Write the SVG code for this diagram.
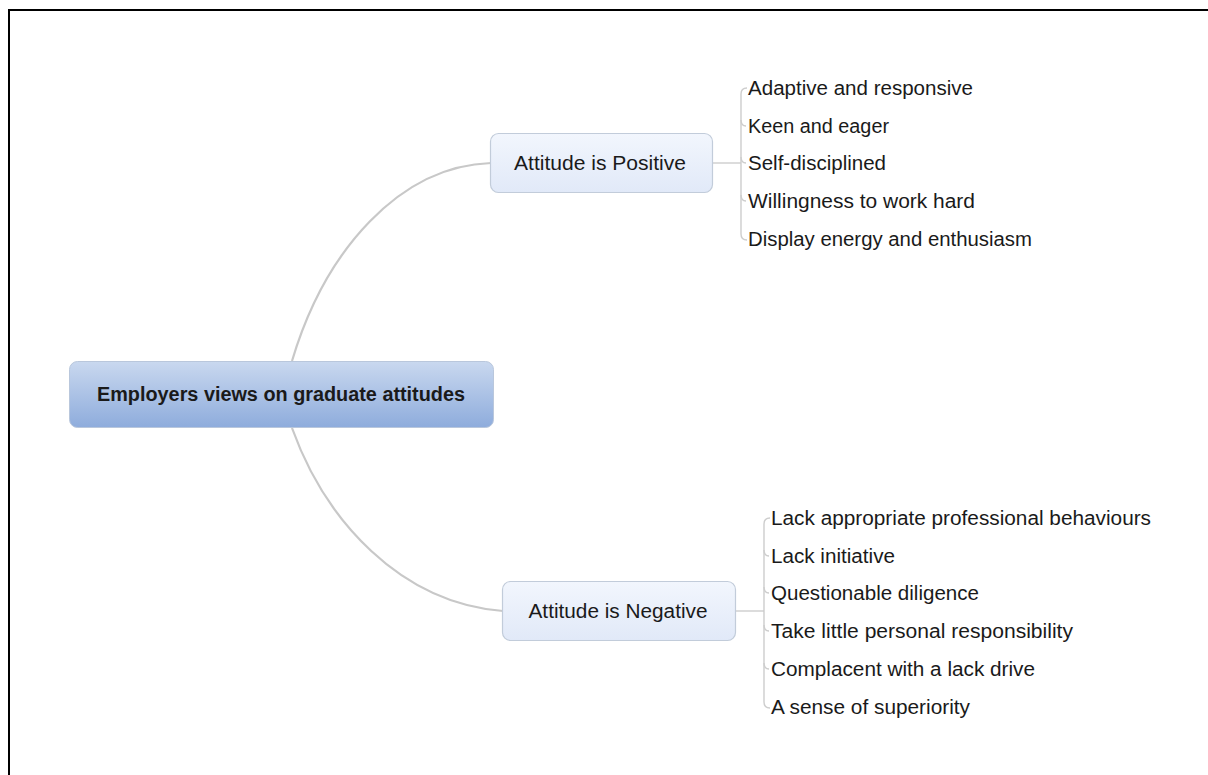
<svg xmlns="http://www.w3.org/2000/svg" width="1208" height="775" viewBox="0 0 1208 775">
  <defs>
    <linearGradient id="rootFill" x1="0" y1="0" x2="0" y2="1">
      <stop offset="0" stop-color="#c9d8ef"/>
      <stop offset="1" stop-color="#8eacdc"/>
    </linearGradient>
    <linearGradient id="branchFill" x1="0" y1="0" x2="0" y2="1">
      <stop offset="0" stop-color="#f2f6fd"/>
      <stop offset="1" stop-color="#e1e9f8"/>
    </linearGradient>
    <style>
      .frame { fill: none; stroke: #000; stroke-width: 2; }
      .root { fill: url(#rootFill); stroke: #b9c7dc; stroke-width: 1; }
      .branch { fill: url(#branchFill); stroke: #c2ccda; stroke-width: 1.2; }
      .curve { fill: none; stroke: #c8c8c8; stroke-width: 2.2; }
      .brace { fill: none; stroke: #cdcdcd; stroke-width: 1.4; }
      text { font-family: "Liberation Sans", Arial, sans-serif; fill: #1a1a1a; }
      .rootLabel { font-size: 20px; font-weight: bold; text-anchor: middle; }
      .branchLabel { font-size: 20px; text-anchor: middle; }
      .leaf { font-size: 20px; }
    </style>
  </defs>

  <rect width="1208" height="775" fill="#fff"/>
  <!-- page frame: open on the right and bottom edges -->
  <rect class="frame" x="9" y="10" width="1220" height="790"/>

  <!-- connectors -->
  <g id="connectors">
    <path class="curve" d="M292,361 C325,250 400,166 491,163"/>
    <path class="curve" d="M292,428 C325,520 400,603 503,611"/>
    <!-- positive fan -->
    <path class="brace" d="M713,163 H741"/>
    <path class="brace" d="M747,88 Q741,88 741,94 V234 Q741,240 747,240"/>
    <path class="brace" d="M741,120 Q741,126 746,126"/>
    <path class="brace" d="M741,157 Q741,163 746,163"/>
    <path class="brace" d="M741,195 Q741,201 746,201"/>
    <!-- negative fan -->
    <path class="brace" d="M736,611 H764"/>
    <path class="brace" d="M770,518 Q764,518 764,524 V702 Q764,708 770,708"/>
    <path class="brace" d="M764,550 Q764,556 769,556"/>
    <path class="brace" d="M764,587 Q764,593 769,593"/>
    <path class="brace" d="M764,625 Q764,631 769,631"/>
    <path class="brace" d="M764,663 Q764,669 769,669"/>
  </g>

  <g id="root">
    <rect class="root" x="69.5" y="361.5" width="424" height="66" rx="8"/>
    <text class="rootLabel" x="281" y="401" textLength="368" lengthAdjust="spacingAndGlyphs">Employers views on graduate attitudes</text>
  </g>

  <g id="positive">
    <rect class="branch" x="490.5" y="133.5" width="222" height="59" rx="8"/>
    <text class="branchLabel" x="600" y="170" textLength="172" lengthAdjust="spacingAndGlyphs">Attitude is Positive</text>
  </g>

  <g id="positive-items">
    <text class="leaf" x="748" y="95" textLength="225" lengthAdjust="spacingAndGlyphs">Adaptive and responsive</text>
    <text class="leaf" x="748" y="133" textLength="141" lengthAdjust="spacingAndGlyphs">Keen and eager</text>
    <text class="leaf" x="748" y="170" textLength="138" lengthAdjust="spacingAndGlyphs">Self-disciplined</text>
    <text class="leaf" x="748" y="208" textLength="227" lengthAdjust="spacingAndGlyphs">Willingness to work hard</text>
    <text class="leaf" x="748" y="246" textLength="284" lengthAdjust="spacingAndGlyphs">Display energy and enthusiasm</text>
  </g>

  <g id="negative">
    <rect class="branch" x="502.5" y="581.5" width="233" height="59" rx="8"/>
    <text class="branchLabel" x="618" y="618" textLength="179" lengthAdjust="spacingAndGlyphs">Attitude is Negative</text>
  </g>

  <g id="negative-items">
    <text class="leaf" x="771" y="525" textLength="380" lengthAdjust="spacingAndGlyphs">Lack appropriate professional behaviours</text>
    <text class="leaf" x="771" y="563" textLength="124" lengthAdjust="spacingAndGlyphs">Lack initiative</text>
    <text class="leaf" x="771" y="600" textLength="208" lengthAdjust="spacingAndGlyphs">Questionable diligence</text>
    <text class="leaf" x="771" y="638" textLength="302" lengthAdjust="spacingAndGlyphs">Take little personal responsibility</text>
    <text class="leaf" x="771" y="676" textLength="264" lengthAdjust="spacingAndGlyphs">Complacent with a lack drive</text>
    <text class="leaf" x="771" y="714" textLength="199" lengthAdjust="spacingAndGlyphs">A sense of superiority</text>
  </g>
</svg>
